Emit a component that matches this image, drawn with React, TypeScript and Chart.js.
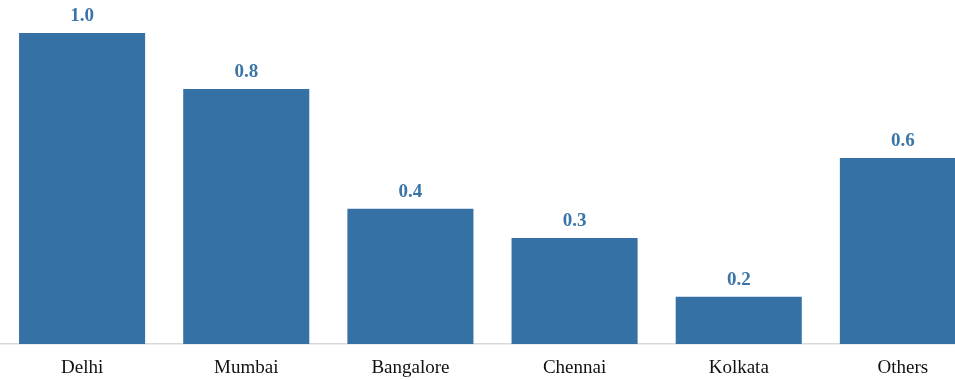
import React, { useEffect, useRef } from "react";
import { Chart, registerables } from "chart.js";

Chart.register(...registerables);

const categories = ["Delhi", "Mumbai", "Bangalore", "Chennai", "Kolkata", "Others"];
const values = [1.0, 0.82, 0.435, 0.341, 0.152, 0.598];

const BAR_COLOR = "#3571a4";
const LABEL_COLOR = "#3a75a9";
const FONT = "'Liberation Serif', 'Times New Roman', serif";

const valueLabels = {
  id: "valueLabels",
  afterDatasetsDraw(chart: any) {
    const ctx = chart.ctx;
    const meta = chart.getDatasetMeta(0);
    ctx.save();
    ctx.font = `bold 19px ${FONT}`;
    ctx.fillStyle = LABEL_COLOR;
    ctx.textAlign = "center";
    ctx.textBaseline = "alphabetic";
    meta.data.forEach((bar: any, i: number) => {
      ctx.fillText(values[i].toFixed(1), bar.x, bar.y - 12);
    });
    ctx.restore();
  },
};

export default function App() {
  const ref = useRef<HTMLCanvasElement>(null);
  useEffect(() => {
    if (!ref.current) return;
    const chart = new Chart(ref.current, {
      type: "bar",
      data: {
        labels: categories,
        datasets: [
          {
            data: values,
            backgroundColor: BAR_COLOR,
            borderWidth: 0,
            categoryPercentage: 1,
            barPercentage: 0.768,
          },
        ],
      },
      options: {
        responsive: false,
        animation: false,
        layout: { padding: 0 },
        plugins: {
          legend: { display: false },
          tooltip: { enabled: false },
          title: { display: false },
        },
        scales: {
          x: {
            grid: { display: false, drawTicks: false },
            border: { display: true, color: "#d9d9d9", width: 1.5 },
            ticks: {
              color: "#111111",
              font: { family: FONT, size: 19 },
              padding: 13,
              maxRotation: 0,
              autoSkip: false,
            },
            afterFit: (axis: any) => {
              axis.height = 36;
            },
          },
          y: {
            display: false,
            min: 0,
            max: 1.106,
          },
        },
      },
      plugins: [valueLabels],
    });
    return () => chart.destroy();
  }, []);
  return (
    <div
      style={{
        position: "fixed",
        top: 0,
        left: 0,
        width: 955,
        height: 380,
        overflow: "hidden",
        background: "#ffffff",
      }}
    >
      <canvas ref={ref} width={985} height={380} style={{ display: "block" }} />
    </div>
  );
}
